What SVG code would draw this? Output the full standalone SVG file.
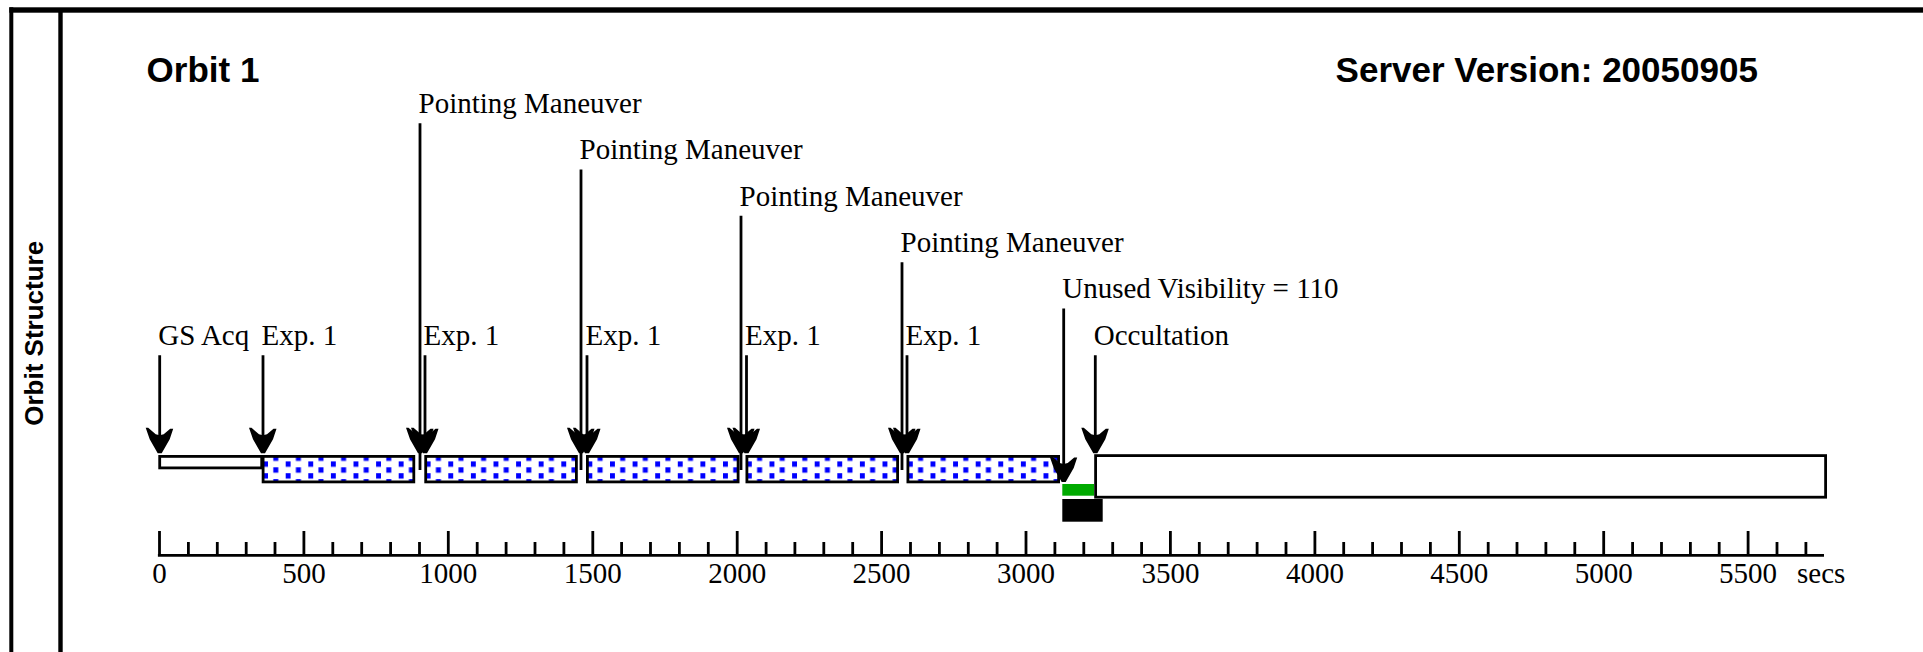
<svg xmlns="http://www.w3.org/2000/svg" width="1923" height="652" viewBox="0 0 1923 652">
  <style>
    .title{font-family:"Liberation Sans",Arial,sans-serif;font-weight:bold;font-size:35px;fill:#000}
    .side{font-family:"Liberation Sans",Arial,sans-serif;font-weight:bold;font-size:26px;fill:#000}
    .lbl{font-family:"Liberation Serif","Times New Roman",serif;font-size:29px;fill:#000}
    .num{font-family:"Liberation Serif","Times New Roman",serif;font-size:29px;fill:#000;text-anchor:middle}
    .seg{stroke:#000;stroke-width:2.8;fill:#fff}
    .exp{stroke:#000;stroke-width:2.8;fill:url(#dots)}
    .shaft{stroke:#000;stroke-width:2.8;fill:none}
    .tick{stroke:#000;stroke-width:2.8;fill:none}
  </style>
  <defs>
    <!-- stipple used for the exposure segments -->
    <pattern id="dots" patternUnits="userSpaceOnUse" x="0" y="-0.9" width="22.6" height="11.8">
      <rect width="22.6" height="11.8" fill="#fff"/>
      <rect x="10.2" y="0" width="5" height="5.4" fill="#0000ff"/>
      <rect x="-0.1" y="5.9" width="5" height="5.4" fill="#0000ff"/>
    </pattern>
    <!-- barbed arrowhead, tip at the origin -->
    <path id="head" d="M-2,0 L2,0 L10,-14 L13.5,-24.5 L10.5,-24.5 L4,-19 L0,-18 L-4,-19 L-11.5,-25.5 L-14,-25.5 L-10,-14 Z" fill="#000"/>
  </defs>

  <rect width="1923" height="652" fill="#fff"/>

  <!-- panel frame -->
  <g id="frame" fill="#000">
    <rect x="9.3" y="7.3" width="1914" height="5.4"/>
    <rect x="9.3" y="7.3" width="4" height="645"/>
    <rect x="58.3" y="12" width="4.4" height="640"/>
  </g>

  <g id="side-title">
    <text class="side" transform="translate(43,333.3) rotate(-90)" text-anchor="middle">Orbit Structure</text>
  </g>
  <g id="orbit-title">
    <text class="title" x="146.6" y="82">Orbit 1</text>
  </g>
  <g id="server-version">
    <text class="title" x="1335.6" y="82">Server Version: 20050905</text>
  </g>

  <!-- time axis, 100 s per minor tick -->
  <g id="axis">
    <path class="tick" d="M157.9 555.3H1824"/>
    <path class="tick" d="M159.5 531V555.3M303.9 531V555.3M448.3 531V555.3M592.8 531V555.3M737.2 531V555.3M881.6 531V555.3M1026 531V555.3M1170.4 531V555.3M1314.9 531V555.3M1459.3 531V555.3M1603.7 531V555.3M1748.1 531V555.3"/>
    <path class="tick" d="M188.4 542V555.3M217.3 542V555.3M246.2 542V555.3M275 542V555.3M332.8 542V555.3M361.7 542V555.3M390.6 542V555.3M419.5 542V555.3M477.2 542V555.3M506.1 542V555.3M535 542V555.3M563.9 542V555.3M621.6 542V555.3M650.5 542V555.3M679.4 542V555.3M708.3 542V555.3M766.1 542V555.3M794.9 542V555.3M823.8 542V555.3M852.7 542V555.3M910.5 542V555.3M939.4 542V555.3M968.3 542V555.3M997.1 542V555.3M1054.9 542V555.3M1083.8 542V555.3M1112.7 542V555.3M1141.6 542V555.3M1199.3 542V555.3M1228.2 542V555.3M1257.1 542V555.3M1286 542V555.3M1343.7 542V555.3M1372.6 542V555.3M1401.5 542V555.3M1430.4 542V555.3M1488.2 542V555.3M1517 542V555.3M1545.9 542V555.3M1574.8 542V555.3M1632.6 542V555.3M1661.5 542V555.3M1690.4 542V555.3M1719.2 542V555.3M1777 542V555.3M1805.9 542V555.3"/>
    <text class="num" x="159.5" y="583">0</text>
    <text class="num" x="303.9" y="583">500</text>
    <text class="num" x="448.3" y="583">1000</text>
    <text class="num" x="592.8" y="583">1500</text>
    <text class="num" x="737.2" y="583">2000</text>
    <text class="num" x="881.6" y="583">2500</text>
    <text class="num" x="1026" y="583">3000</text>
    <text class="num" x="1170.4" y="583">3500</text>
    <text class="num" x="1314.9" y="583">4000</text>
    <text class="num" x="1459.3" y="583">4500</text>
    <text class="num" x="1603.7" y="583">5000</text>
    <text class="num" x="1748.1" y="583">5500</text>
    <text class="lbl" x="1797" y="583">secs</text>
  </g>

  <!-- timeline segments -->
  <g id="seg-gs-acq"><rect class="seg" x="159.7" y="456.4" width="102" height="11.5"/></g>
  <g id="seg-exp-1" transform="translate(263.1 456.4)"><rect class="exp" width="150.7" height="25.5"/></g>
  <g id="seg-exp-2" transform="translate(425.7 456.4)"><rect class="exp" width="150.7" height="25.5"/></g>
  <g id="seg-exp-3" transform="translate(587.4 456.4)"><rect class="exp" width="150.7" height="25.5"/></g>
  <g id="seg-exp-4" transform="translate(746.9 456.4)"><rect class="exp" width="150.7" height="25.5"/></g>
  <g id="seg-exp-5" transform="translate(907.9 456.4)"><rect class="exp" width="150.7" height="25.5"/></g>
  <g id="seg-unused">
    <rect x="1062.3" y="484" width="31.7" height="11.7" fill="#00aa00"/>
    <rect x="1062.3" y="499" width="40.4" height="22.7" fill="#000"/>
  </g>
  <g id="seg-occultation"><rect class="seg" x="1095.6" y="455.6" width="730" height="41.6"/></g>

  <!-- event arrows -->
  <g id="connectors">
    <path class="shaft" d="M159.7 355.3V450M263 355.3V450M425 355.3V450M587 355.3V450M746.5 355.3V450M907 355.3V450M420 123.3V470M581 169.4V470M741 215.8V470M902 262.2V470M1063.7 308.6V479M1095.3 355.3V453"/>
    <use href="#head" transform="translate(159.7 453.3)"/>
    <use href="#head" transform="translate(263 453.3)"/>
    <use href="#head" transform="translate(420 453.3)"/>
    <use href="#head" transform="translate(425 453.3)"/>
    <use href="#head" transform="translate(581 453.3)"/>
    <use href="#head" transform="translate(587 453.3)"/>
    <use href="#head" transform="translate(741 453.3)"/>
    <use href="#head" transform="translate(746.5 453.3)"/>
    <use href="#head" transform="translate(902 453.3)"/>
    <use href="#head" transform="translate(907 453.3)"/>
    <use href="#head" transform="translate(1063.7 482)"/>
    <use href="#head" transform="translate(1095.3 453.3)"/>
  </g>

  <!-- event labels -->
  <g id="lbl-gs-acq"><text class="lbl" x="158.2" y="344.7">GS Acq</text></g>
  <g id="lbl-exp-1a"><text class="lbl" x="261.5" y="344.7">Exp. 1</text></g>
  <g id="lbl-pm-1"><text class="lbl" x="418.5" y="113">Pointing Maneuver</text></g>
  <g id="lbl-exp-1b"><text class="lbl" x="423.5" y="344.7">Exp. 1</text></g>
  <g id="lbl-pm-2"><text class="lbl" x="579.5" y="159.1">Pointing Maneuver</text></g>
  <g id="lbl-exp-1c"><text class="lbl" x="585.5" y="344.7">Exp. 1</text></g>
  <g id="lbl-pm-3"><text class="lbl" x="739.5" y="205.5">Pointing Maneuver</text></g>
  <g id="lbl-exp-1d"><text class="lbl" x="745" y="344.7">Exp. 1</text></g>
  <g id="lbl-pm-4"><text class="lbl" x="900.5" y="251.9">Pointing Maneuver</text></g>
  <g id="lbl-exp-1e"><text class="lbl" x="905.5" y="344.7">Exp. 1</text></g>
  <g id="lbl-unused"><text class="lbl" x="1062.2" y="298.3">Unused Visibility = 110</text></g>
  <g id="lbl-occultation"><text class="lbl" x="1093.8" y="344.7">Occultation</text></g>
</svg>
